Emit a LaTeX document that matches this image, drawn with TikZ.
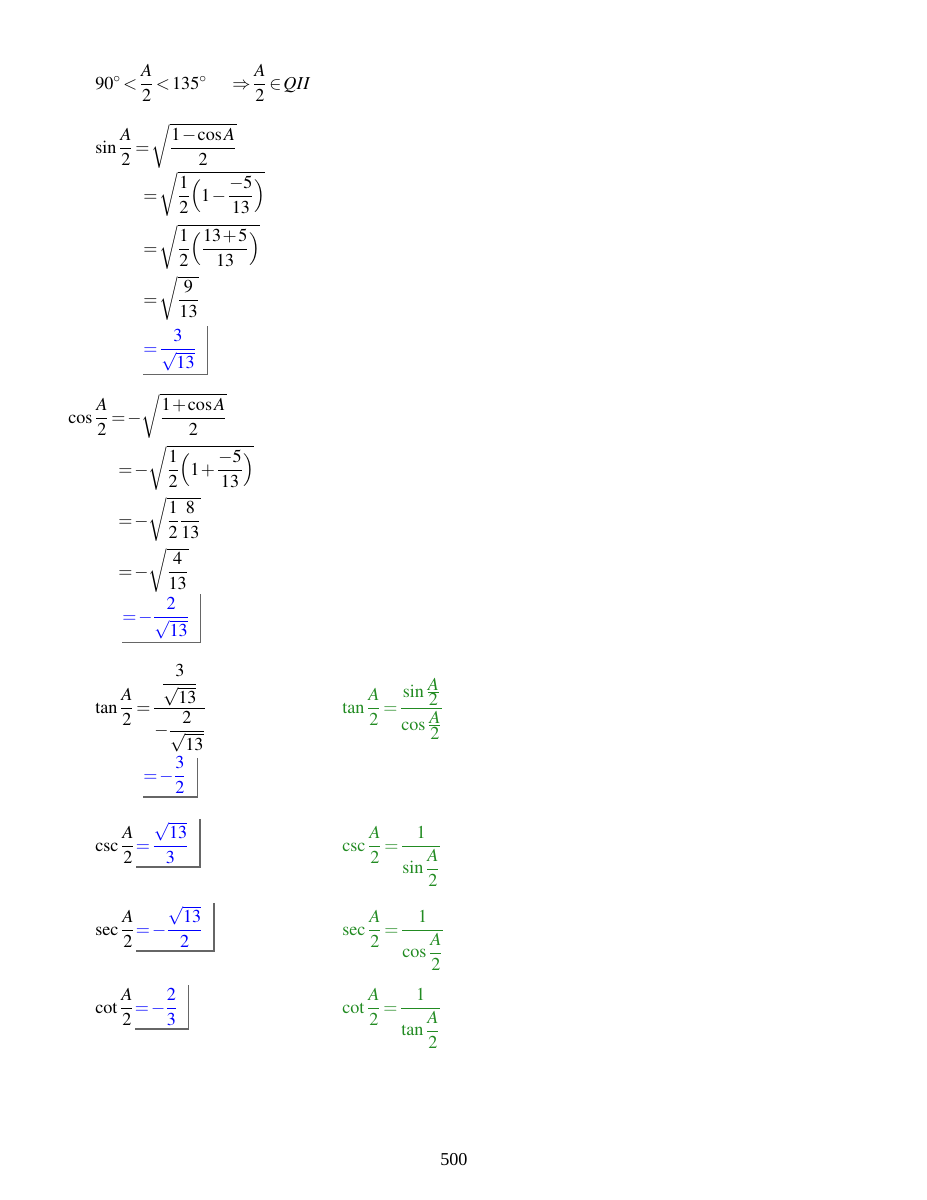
\documentclass[tikz,border=0pt]{standalone}
\usepackage{amsmath}
\usepackage{mathptmx}
\usepackage{fontspec}
\setmainfont{Liberation Serif}
\usetikzlibrary{positioning}
\thickmuskip=2mu plus 1mu
\medmuskip=1.5mu plus 1mu
\newcommand{\tf}[2]{\frac{\textstyle #1}{\textstyle #2}}
\definecolor{ansblue}{RGB}{0,0,255}
\definecolor{rulegreen}{RGB}{34,139,34}
\tikzset{
  eqline/.style={anchor=base west, inner sep=0pt, font=\fontsize{12}{14}\selectfont},
  answer/.style={eqline, text=ansblue},
  rulegr/.style={eqline, text=rulegreen},
  boxline/.style={draw=black!60, line width=0.9pt}
}
\begin{document}
\begin{tikzpicture}[x=0.66pt,y=-0.66pt]
\useasboundingbox (0,0) rectangle (927,1200);
% quadrant
\node[eqline] (quad) at (95,89) {$90^\circ<\dfrac{A}{2}<135^\circ$};
\node[eqline] (impl) at (232,89) {$\Rightarrow\dfrac{A}{2}\in QII$};
% sine
\node[eqline] (sin1) at (95,153) {$\sin\dfrac{A}{2}=\sqrt{\dfrac{1-\cos A}{2}}$};
\node[eqline] (sin2) at (143,201) {$=\sqrt{\dfrac{1}{2}\Bigl(1-\dfrac{-5}{13}\Bigr)}$};
\node[eqline] (sin3) at (143,254) {$=\sqrt{\dfrac{1}{2}\Bigl(\dfrac{13+5}{13}\Bigr)}$};
\node[eqline] (sin4) at (143,305) {$=\sqrt{\dfrac{9}{13}}$};
\node[answer] (sin5) at (143,354) {$=\dfrac{3}{\sqrt{13}}$};
\draw[boxline] ([xshift=7pt,yshift=2pt]sin5.north east) |- ([yshift=-2pt]sin5.south west);
% cosine
\node[eqline] (cos1) at (68,423) {$\cos\dfrac{A}{2}=-\sqrt{\dfrac{1+\cos A}{2}}$};
\node[eqline] (cos2) at (118,475) {$=-\sqrt{\dfrac{1}{2}\Bigl(1+\dfrac{-5}{13}\Bigr)}$};
\node[eqline] (cos3) at (118,526) {$=-\sqrt{\dfrac{1}{2}\dfrac{8}{13}}$};
\node[eqline] (cos4) at (118,577) {$=-\sqrt{\dfrac{4}{13}}$};
\node[answer] (cos5) at (122,622) {$=-\dfrac{2}{\sqrt{13}}$};
\draw[boxline] ([xshift=7pt,yshift=2pt]cos5.north east) |- ([yshift=-2pt]cos5.south west);
% tangent
\node[eqline] (tan1) at (95,713) {$\tan\dfrac{A}{2}=\dfrac{\dfrac{3}{\sqrt{13}}}{-\dfrac{2}{\sqrt{13}}}$};
\node[answer] (tan2) at (143,781) {$=-\dfrac{3}{2}$};
\draw[boxline] ([xshift=7pt,yshift=-1pt]tan2.north east) |- ([yshift=-2pt]tan2.south west);
\node[rulegr] (tanr) at (342,713) {$\tan\dfrac{A}{2}=\dfrac{\sin\tf{A}{2}}{\cos\tf{A}{2}}$};
% cosecant
\node[eqline] (csc1) at (95,851) {$\csc\dfrac{A}{2}$};
\node[answer] (csc2) at (csc1.base east) {$=\dfrac{\sqrt{13}}{3}$};
\draw[boxline] ([xshift=7pt,yshift=2pt]csc2.north east) |- ([yshift=-2pt]csc2.south west);
\node[rulegr] (cscr) at (342,851) {$\csc\dfrac{A}{2}=\dfrac{1}{\sin\dfrac{A}{2}}$};
% secant
\node[eqline] (sec1) at (95,935) {$\sec\dfrac{A}{2}$};
\node[answer] (sec2) at (sec1.base east) {$=-\dfrac{\sqrt{13}}{2}$};
\draw[boxline] ([xshift=7pt,yshift=2pt]sec2.north east) |- ([yshift=-2pt]sec2.south west);
\node[rulegr] (secr) at (342,935) {$\sec\dfrac{A}{2}=\dfrac{1}{\cos\dfrac{A}{2}}$};
% cotangent
\node[eqline] (cot1) at (95,1013) {$\cot\dfrac{A}{2}$};
\node[answer] (cot2) at (cot1.base east) {$=-\dfrac{2}{3}$};
\draw[boxline] ([xshift=7pt,yshift=2pt]cot2.north east) |- ([yshift=-2pt]cot2.south west);
\node[rulegr] (cotr) at (342,1013) {$\cot\dfrac{A}{2}=\dfrac{1}{\tan\dfrac{A}{2}}$};
% page number
\node[eqline] (page) at (440,1165) {500};
\end{tikzpicture}
\end{document}
